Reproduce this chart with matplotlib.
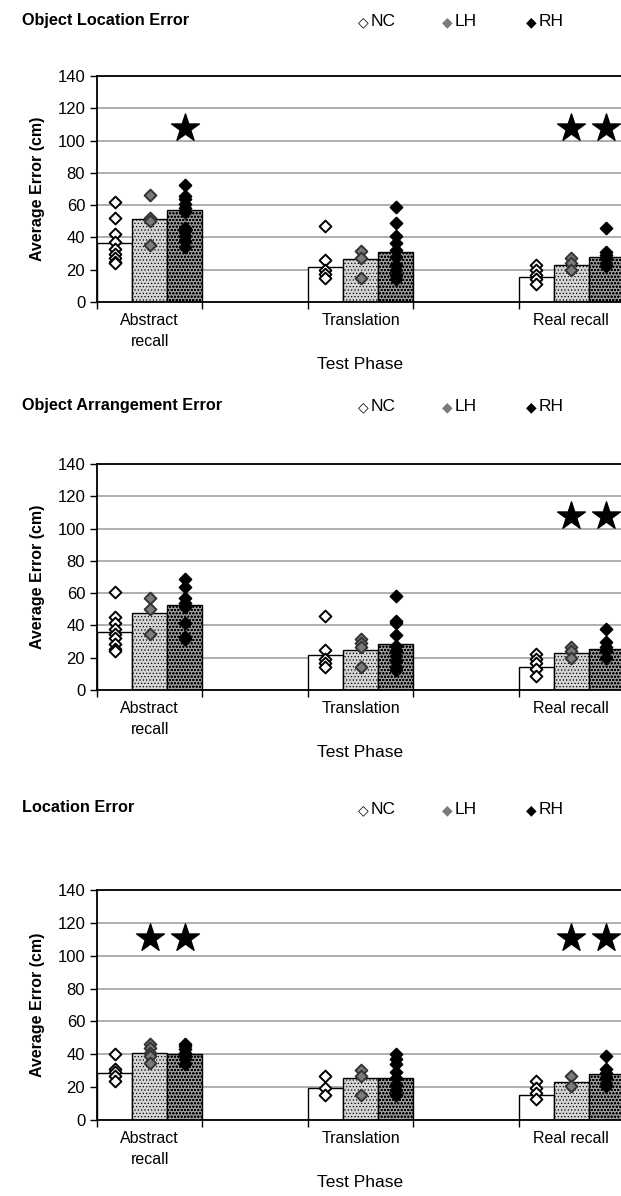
import matplotlib.pyplot as plt

plt.rcParams['font.family'] = ['Liberation Sans', 'DejaVu Sans']
plt.rcParams['hatch.linewidth'] = 0.5

phases = ['Abstract\nrecall', 'Translation', 'Real recall']
phase_slots = [0, 2, 4]
groups = ['NC', 'LH', 'RH']
yticks = [0, 20, 40, 60, 80, 100, 120, 140]

# Object Location Error
ole_means = [[36.8, 21.6, 15.6],   # NC
             [51.3, 26.5, 23.0],   # LH
             [56.8, 30.7, 27.9]]   # RH
ole_nc = [[62, 52, 42, 37, 33, 30, 27, 25, 24],
          [47, 26, 20, 17.5, 15],
          [23, 20, 17, 14, 11]]
ole_lh = [[66.5, 52, 50, 35],
          [31.5, 27, 15],
          [27, 24, 20]]
ole_rh = [[72.5, 65.5, 64, 61, 58, 56, 46, 44, 41, 38, 34],
          [59, 49, 41, 36.5, 32, 28, 23, 20, 17, 14],
          [46, 31, 29, 27, 24, 22]]
ole_stars = [(0, 2), (2, 1), (2, 2)]
ole_star_y = 108

# Object Arrangement Error
oae_means = [[35.9, 21.4, 14.5],
             [47.6, 24.5, 22.9],
             [52.7, 28.8, 25.1]]
oae_nc = [[61, 45, 41.5, 38, 35, 32, 28.5, 25.5, 24],
          [46, 25, 19, 17, 14.5],
          [22, 19, 16.5, 13, 8.5]]
oae_lh = [[57, 50, 35],
          [31.5, 29, 26.5, 14.5],
          [26.5, 24, 20]]
oae_rh = [[69, 63.5, 57, 54, 51.5, 41.5, 33, 31.5],
          [58.5, 43, 41.5, 34, 27.5, 24, 21, 18, 14.5, 12.5],
          [37.5, 29.5, 26.5, 24, 20]]
oae_stars = [(2, 1), (2, 2)]
oae_star_y = 108

# Location Error
le_means = [[28.7, 19.6, 15.3],
            [41.0, 25.8, 23.0],
            [40.0, 25.8, 28.0]]
le_nc = [[40, 31, 29, 26.5, 23.5],
         [26.5, 19.5, 15],
         [23.5, 19.5, 16.5, 13]]
le_lh = [[46.5, 44, 41, 39, 35],
         [30.5, 26.5, 15],
         [27, 20.5]]
le_rh = [[46.5, 45, 43, 41, 39, 37, 34],
         [40, 37, 34, 29, 25.5, 21.5, 18.5, 15.5],
         [39, 31, 28.5, 25.5, 22.5, 20.5]]
le_stars = [(0, 1), (0, 2), (2, 1), (2, 2)]
le_star_y = 111

bar_face = ['white', '#d4d4d4', '#9a9a9a']
bar_hatch = [None, '.....', 'ooooo']
pt_face = ['white', '#7a7a7a', 'black']
pt_edge = ['black', '#333333', 'black']

fig = plt.figure(figsize=(6.21, 11.96), dpi=100)


def panel(rect, title, title_y, means, pts, stars, star_y):
    ax = fig.add_axes(rect)
    w = 1 / 3
    for g in range(3):
        xs = [s + (g - 1) * w for s in phase_slots]
        ax.bar(xs, means[g], width=w, color=bar_face[g], edgecolor='black',
               linewidth=1.0, hatch=bar_hatch[g], zorder=2)
        for p in range(3):
            ax.scatter([xs[p]] * len(pts[g][p]), pts[g][p], marker='D', s=36,
                       facecolor=pt_face[g], edgecolor=pt_edge[g],
                       linewidth=1.4, zorder=3)
    for p, g in stars:
        ax.scatter(phase_slots[p] + (g - 1) * w, star_y, marker='*', s=440,
                   color='black', zorder=4)
    ax.set_xlim(-0.5, 4.5)
    ax.set_ylim(0, 140)
    ax.set_yticks(yticks)
    ax.yaxis.grid(True, color='#a8a8a8', linewidth=1.3, zorder=0)
    ax.set_axisbelow(True)
    ax.set_xticks(phase_slots)
    ax.set_xticklabels(phases, fontsize=11.5, linespacing=1.5)
    ax.set_xticks([-0.5, 0.5, 1.5, 2.5, 3.5, 4.5], minor=True)
    ax.tick_params(axis='x', which='major', length=0, pad=8)
    ax.tick_params(axis='x', which='minor', length=5, width=1)
    ax.tick_params(axis='y', length=5, width=1, labelsize=12)
    for s in ['left', 'bottom', 'top']:
        ax.spines[s].set_linewidth(1.3)
    ax.spines['right'].set_visible(False)
    ax.set_xlabel('Test Phase', fontsize=12.5, labelpad=6)
    ax.set_ylabel('Average Error (cm)', fontsize=11.5, fontweight='bold',
                  labelpad=9)
    fig.text(22 / 621, 1 - title_y / 1196, title, fontsize=11.7,
             fontweight='bold', va='center')
    for i, (lx, name) in enumerate(zip([363, 447, 531], groups)):
        fig.text(lx / 621, 1 - (title_y + 2) / 1196, '\u25C6', color=pt_face[i],
                 fontsize=10, ha='center', va='center', family='DejaVu Sans')
        if i == 0:
            fig.text(lx / 621, 1 - (title_y + 2) / 1196, '\u25C7', color='black',
                     fontsize=10, ha='center', va='center', family='DejaVu Sans')
        fig.text((lx + 8) / 621, 1 - (title_y + 2) / 1196, name, fontsize=12.5,
                 va='center')
    return ax


panel([97 / 621, 1 - 302 / 1196, 527 / 621, 226 / 1196],
      'Object Location Error', 20, ole_means,
      [ole_nc, ole_lh, ole_rh], ole_stars, ole_star_y)
panel([97 / 621, 1 - 690 / 1196, 527 / 621, 226 / 1196],
      'Object Arrangement Error', 405, oae_means,
      [oae_nc, oae_lh, oae_rh], oae_stars, oae_star_y)
panel([97 / 621, 1 - 1120 / 1196, 527 / 621, 230 / 1196],
      'Location Error', 808, le_means,
      [le_nc, le_lh, le_rh], le_stars, le_star_y)

fig.savefig('out.png', dpi=100)
